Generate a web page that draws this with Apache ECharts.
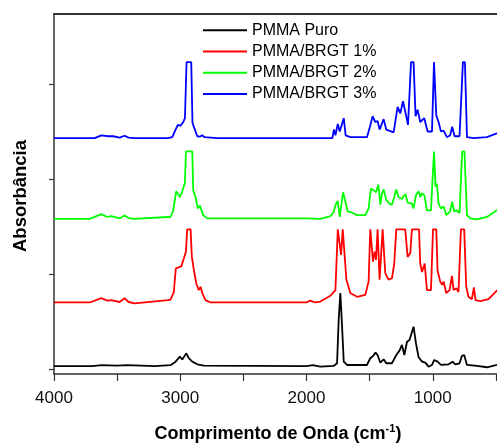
<!DOCTYPE html>
<html>
<head>
<meta charset="utf-8">
<script src="https://cdn.jsdelivr.net/npm/echarts@6/dist/echarts.min.js"></script>
<style>
  html, body { margin: 0; padding: 0; background: #fff; }
  #chart { width: 497px; height: 443px; }
</style>
</head>
<body>
<div id="chart"></div>
<script>
// wavenumber (cm-1), absorbance with vertical offset
const names = ["PMMA Puro", "PMMA/BRGT 1%", "PMMA/BRGT 2%", "PMMA/BRGT 3%"];
const colors = ["#000000", "#ff0000", "#00ff00", "#0000ff"];

const puro = [
  [4000, 0.03], [3700, 0.03], [3620, 0.04], [3500, 0.035], [3420, 0.04], [3200, 0.03],
  [3077, 0.04], [3037, 0.077], [3003, 0.13], [2984, 0.10], [2971, 0.113], [2952, 0.165],
  [2932, 0.113], [2905, 0.077], [2865, 0.049], [2813, 0.035], [2000, 0.03], [1950, 0.04],
  [1890, 0.025], [1785, 0.032], [1758, 0.06], [1745, 0.52], [1732, 0.80], [1721, 0.52],
  [1705, 0.077], [1679, 0.042], [1521, 0.042], [1495, 0.113], [1473, 0.137], [1453, 0.172],
  [1437, 0.147], [1415, 0.066], [1389, 0.102], [1368, 0.06], [1323, 0.06], [1289, 0.147],
  [1263, 0.193], [1244, 0.253], [1225, 0.147], [1204, 0.287], [1184, 0.305], [1152, 0.445],
  [1133, 0.271], [1112, 0.123], [1085, 0.077], [1059, 0.066], [1033, 0.024], [1006, 0.042],
  [988, 0.095], [962, 0.077], [935, 0.042], [875, 0.049], [843, 0.077], [822, 0.049],
  [788, 0.06], [769, 0.137], [751, 0.147], [729, 0.042], [650, 0.032], [571, 0.018],
  [492, 0.042], [400, 0.08]
];

const brgt1 = [
  [4000, 0.70], [3717, 0.70], [3625, 0.745], [3578, 0.72], [3546, 0.725], [3480, 0.705],
  [3441, 0.745], [3409, 0.705], [3362, 0.69], [3098, 0.725], [3077, 0.73], [3051, 0.81],
  [3035, 1.06], [3024, 1.08], [2992, 1.08], [2971, 1.165], [2955, 1.235], [2945, 1.47],
  [2918, 1.47], [2908, 1.18], [2892, 1.04], [2873, 0.90], [2853, 0.83], [2839, 0.865],
  [2826, 0.80], [2800, 0.725], [2760, 0.70], [2000, 0.70], [1970, 0.72], [1930, 0.70],
  [1890, 0.71], [1811, 0.77], [1771, 0.83], [1752, 1.47], [1737, 1.47], [1726, 1.20],
  [1713, 1.47], [1700, 1.47], [1684, 0.94], [1653, 0.80], [1600, 0.76], [1534, 0.78],
  [1508, 0.92], [1495, 1.47], [1481, 1.47], [1473, 1.13], [1460, 1.235], [1449, 1.15],
  [1437, 1.47], [1426, 1.47], [1421, 0.94], [1408, 0.93], [1397, 1.47], [1386, 1.47],
  [1376, 1.01], [1350, 0.94], [1323, 0.955], [1305, 1.11], [1289, 1.47], [1218, 1.47],
  [1199, 1.18], [1178, 1.22], [1165, 1.47], [1109, 1.47], [1099, 1.11], [1085, 1.02],
  [1064, 1.11], [1046, 0.83], [1014, 0.83], [998, 1.47], [972, 1.47], [962, 1.04],
  [941, 0.92], [925, 0.885], [914, 0.92], [893, 0.80], [867, 0.83], [848, 0.98],
  [835, 0.83], [814, 0.85], [796, 0.81], [777, 1.47], [751, 1.47], [735, 0.87],
  [717, 0.76], [690, 0.735], [674, 0.86], [661, 0.725], [624, 0.715], [558, 0.735],
  [492, 0.825], [400, 0.95]
];

const brgt2 = [
  [4000, 1.58], [3717, 1.58], [3625, 1.63], [3578, 1.60], [3546, 1.61], [3480, 1.585],
  [3441, 1.615], [3401, 1.585], [3362, 1.58], [3098, 1.60], [3077, 1.60], [3058, 1.66],
  [3051, 1.71], [3032, 1.87], [3019, 1.88], [3003, 1.81], [2984, 1.87], [2963, 1.96],
  [2955, 2.29], [2905, 2.29], [2897, 1.88], [2879, 1.81], [2861, 1.69], [2845, 1.72],
  [2834, 1.68], [2818, 1.62], [2786, 1.585], [2000, 1.585], [1890, 1.58], [1811, 1.61],
  [1785, 1.65], [1769, 1.73], [1753, 1.77], [1737, 1.60], [1726, 1.71], [1710, 1.86],
  [1692, 1.76], [1674, 1.66], [1639, 1.645], [1600, 1.62], [1534, 1.62], [1508, 1.69],
  [1489, 1.90], [1468, 1.88], [1449, 1.86], [1431, 1.94], [1415, 1.73], [1402, 1.85],
  [1389, 1.89], [1368, 1.78], [1344, 1.74], [1323, 1.73], [1305, 1.81], [1289, 1.89],
  [1271, 1.81], [1257, 1.83], [1244, 1.79], [1231, 1.82], [1215, 1.84], [1199, 1.75],
  [1184, 1.76], [1165, 1.74], [1152, 1.69], [1133, 1.83], [1112, 1.87], [1099, 1.81],
  [1085, 1.85], [1067, 1.83], [1046, 1.67], [1014, 1.67], [1002, 1.99], [990, 2.29],
  [982, 2.29], [978, 1.92], [967, 1.95], [954, 1.74], [935, 1.69], [914, 1.71],
  [893, 1.62], [862, 1.66], [846, 1.76], [830, 1.66], [809, 1.67], [788, 1.64],
  [767, 2.29], [749, 2.29], [729, 1.62], [703, 1.585], [650, 1.575], [571, 1.60],
  [492, 1.67], [400, 1.75]
];

const brgt3 = [
  [4000, 2.43], [3720, 2.43], [3678, 2.43], [3625, 2.46], [3570, 2.45], [3531, 2.45],
  [3480, 2.435], [3441, 2.455], [3409, 2.435], [3362, 2.43], [3100, 2.43], [3063, 2.44],
  [3037, 2.52], [3019, 2.57], [2998, 2.56], [2976, 2.60], [2963, 2.64], [2950, 3.23],
  [2913, 3.23], [2903, 2.59], [2884, 2.52], [2865, 2.45], [2845, 2.445], [2826, 2.46],
  [2808, 2.44], [2707, 2.43], [1890, 2.43], [1795, 2.43], [1783, 2.52], [1771, 2.46],
  [1752, 2.58], [1737, 2.50], [1705, 2.64], [1690, 2.46], [1653, 2.44], [1521, 2.44],
  [1500, 2.54], [1476, 2.66], [1455, 2.60], [1437, 2.61], [1421, 2.52], [1389, 2.63],
  [1368, 2.52], [1310, 2.49], [1278, 2.76], [1257, 2.69], [1236, 2.82], [1218, 2.71],
  [1196, 2.57], [1172, 3.23], [1152, 3.23], [1136, 2.66], [1120, 2.73], [1099, 2.60],
  [1067, 2.64], [1041, 2.50], [1006, 2.50], [990, 3.23], [980, 3.23], [972, 2.67],
  [954, 2.60], [935, 2.50], [914, 2.51], [888, 2.44], [862, 2.46], [846, 2.55],
  [827, 2.45], [788, 2.45], [761, 3.23], [745, 3.23], [729, 2.44], [677, 2.43],
  [571, 2.44], [492, 2.48], [400, 2.55]
];

const xTicks = [0, 500, 1000, 1500, 2000, 2500, 3000, 3500, 4000];
const yTicks = [0, 1, 2, 3];

const font = "Liberation Sans, Arial, sans-serif";
const axisColor = "#333";

const chart = echarts.init(document.getElementById("chart"));

const option = {
  animation: false,
  backgroundColor: "#fff",
  grid: {
    left: 54, top: 14, bottom: 69, right: -62,
    containLabel: false, outerBoundsMode: "none"
  },
  legend: {
    orient: "vertical",
    left: 203, top: 19.5,
    padding: 0,
    itemGap: 0,
    itemWidth: 44, itemHeight: 2,
    icon: "rect",
    selectedMode: false,
    textStyle: { fontFamily: font, fontSize: 16, color: "#000", lineHeight: 21.3 },
    data: names
  },
  xAxis: [
    {
      type: "value",
      min: 0, max: 4000, interval: 500,
      inverse: true,
      axisLine: { onZero: false, lineStyle: { color: axisColor, width: 1.5 } },
      axisTick: { inside: false, length: 7, customValues: xTicks, lineStyle: { color: axisColor, width: 1.2 } },
      axisLabel: {
        showMaxLabel: true, showMinLabel: true,
        margin: 16,
        fontFamily: font, fontSize: 17, color: "#111",
        formatter: function (v) { return v % 1000 === 0 && v > 0 ? String(v) : ""; }
      },
      splitLine: { show: false }
    },
    {
      type: "value",
      position: "top",
      min: 0, max: 4000,
      inverse: true,
      axisLine: { onZero: false, lineStyle: { color: axisColor, width: 2 } },
      axisTick: { show: false },
      axisLabel: { show: false },
      splitLine: { show: false }
    }
  ],
  yAxis: {
    type: "value",
    min: -0.053, max: 3.737,
    axisLine: { show: true, onZero: false, lineStyle: { color: axisColor, width: 1.5 } },
    axisTick: { show: true, length: 5, customValues: yTicks, lineStyle: { color: axisColor, width: 1.2 } },
    axisLabel: { show: false },
    splitLine: { show: false }
  },
  graphic: [
    {
      type: "text",
      x: 21, y: 196,
      rotation: Math.PI / 2,
      style: {
        text: "Absorbância",
        fontFamily: font, fontSize: 18.5, fontWeight: "bold",
        fill: "#000", align: "center", verticalAlign: "middle"
      }
    },
    {
      type: "text",
      x: 278, y: 433,
      style: {
        text: "{a|Comprimento de Onda (cm}{s|-1}{a|)}",
        fill: "#000", align: "center", verticalAlign: "middle",
        rich: {
          a: { fontFamily: font, fontSize: 18, fontWeight: "bold", fill: "#000", verticalAlign: "bottom" },
          s: { fontFamily: font, fontSize: 11, fontWeight: "bold", fill: "#000", verticalAlign: "bottom", padding: [0, 0, 9, 0] }
        }
      }
    }
  ],
  series: [puro, brgt1, brgt2, brgt3].map(function (d, i) {
    return {
      name: names[i],
      type: "line",
      data: d,
      showSymbol: false,
      symbol: "none",
      color: colors[i],
      lineStyle: { width: 1.8, color: colors[i] },
      z: 2 + i
    };
  })
};

chart.setOption(option);
</script>
</body>
</html>
